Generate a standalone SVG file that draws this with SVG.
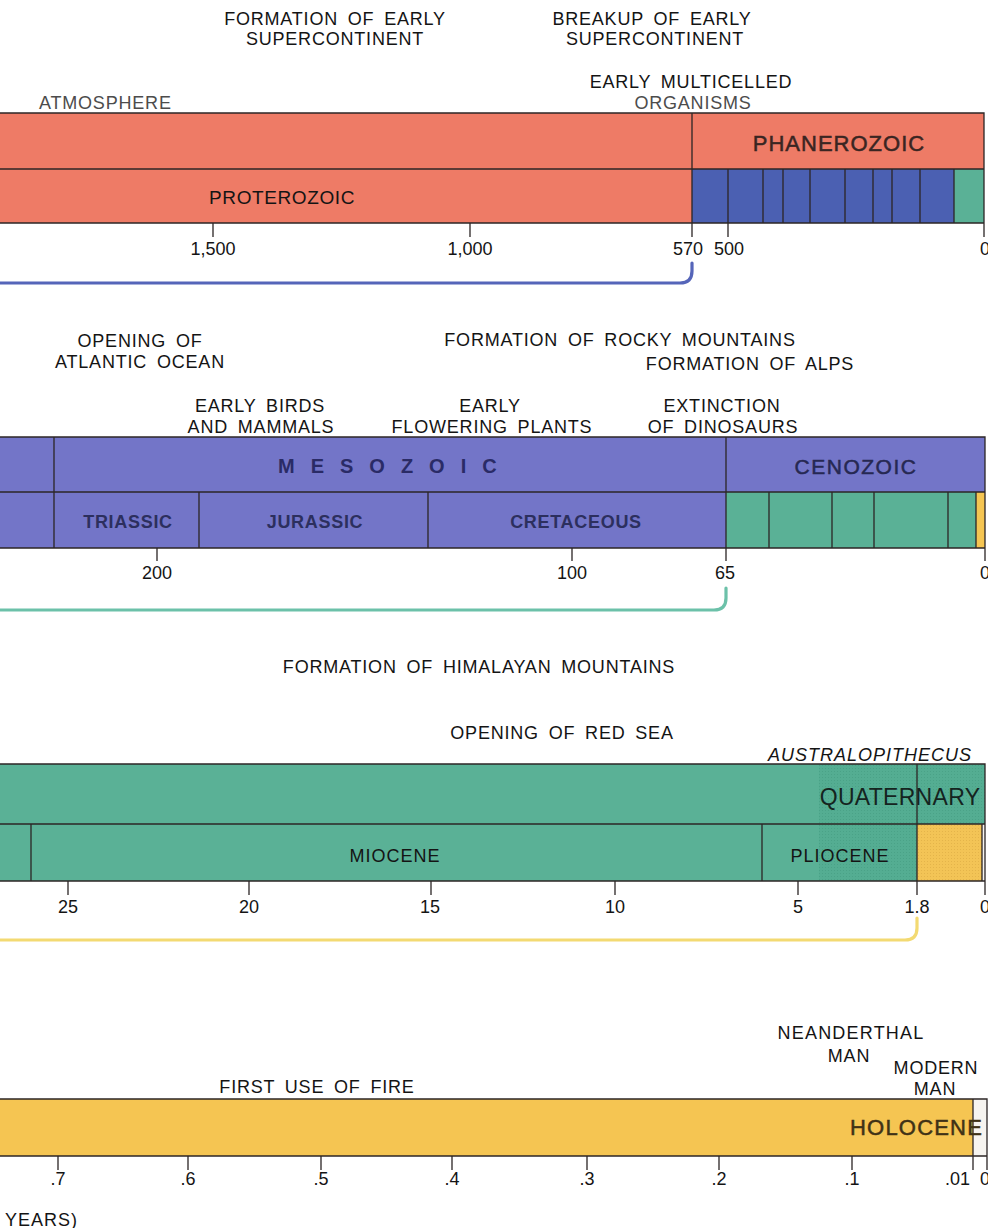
<svg xmlns="http://www.w3.org/2000/svg" width="988" height="1228" viewBox="0 0 988 1228">
<defs>
<pattern id="stipple" width="3" height="3" patternUnits="userSpaceOnUse">
<rect width="3" height="3" fill="#54ad92"/>
<rect width="1" height="1" fill="#4aa287"/>
</pattern>
<pattern id="stippleY" width="3" height="3" patternUnits="userSpaceOnUse">
<rect width="3" height="3" fill="#f3c456"/>
<rect width="1" height="1" fill="#e4b44a"/>
</pattern>
<style>
text{font-family:"Liberation Sans",Arial,sans-serif;fill:#141414}
.h{font-size:18px;letter-spacing:0.8px;word-spacing:4px}
.hm{text-anchor:middle}
.g{fill:#4c4c4c}
.t{font-size:18px;text-anchor:middle}
.med{stroke-width:0.5px}
.ln{stroke:#2c2626;stroke-width:1.3;fill:none}
.sal{fill:#ee7b66}
.blu{fill:#4b60b2}
.grn{fill:#5ab196}
.pur{fill:#7375c8}
.yel{fill:#f5c552}
.wht{fill:#f6f4f0}
.br{fill:none;stroke-width:3.2;stroke-linecap:round}
</style>
</defs>

<!-- ===== BAND 1 ===== -->
<g id="band1">
<rect class="sal" x="0" y="113" width="984" height="110"/>
<rect class="blu" x="692" y="169" width="262" height="54"/>
<rect class="grn" x="954" y="169" width="30" height="54"/>
<path class="ln" d="M0,113 H984 V223 H0 M0,169 H984 M692,113 V237 M728,169 V237 M763,169 V223 M783,169 V223 M810,169 V223 M845,169 V223 M873,169 V223 M892,169 V223 M920,169 V223 M954,169 V223 M984,223 V237 M213,223 V237 M470,223 V237"/>
</g>
<g id="band1-labels">
<text class="h hm" x="335" y="25">FORMATION OF EARLY</text>
<text class="h hm" x="335" y="45">SUPERCONTINENT</text>
<text class="h hm" x="652" y="25">BREAKUP OF EARLY</text>
<text class="h hm" x="655" y="45">SUPERCONTINENT</text>
<text class="h hm" x="691" y="88">EARLY MULTICELLED</text>
<text class="h hm g" x="693" y="109">ORGANISMS</text>
<text class="h g" x="39" y="109">ATMOSPHERE</text>
<text x="282" y="204" style="font-size:19px;letter-spacing:0.6px;text-anchor:middle">PROTEROZOIC</text>
<text class="med" x="839" y="151" style="font-size:22px;letter-spacing:1px;text-anchor:middle;fill:#3a2522;stroke:#3a2522">PHANEROZOIC</text>
<text class="t" x="213" y="255">1,500</text>
<text class="t" x="470" y="255">1,000</text>
<text class="t" x="688" y="255">570</text>
<text class="t" x="729" y="255">500</text>
<text x="980" y="255" style="font-size:18px">0</text>
</g>

<!-- ===== BAND 2 ===== -->
<g id="band2">
<rect class="pur" x="0" y="437" width="985" height="111"/>
<rect class="grn" x="726" y="492" width="250" height="56"/>
<rect class="yel" x="976" y="492" width="9" height="56"/>
<path class="ln" d="M0,437 H985 V548 H0 M0,492 H985 M54,437 V548 M199,492 V548 M428,492 V548 M726,437 V561 M769,492 V548 M832,492 V548 M874,492 V548 M948,492 V548 M976,492 V548 M985,548 V561 M157,548 V561 M572,548 V561"/>
</g>
<g id="band2-labels">
<text class="h hm" x="140" y="347">OPENING OF</text>
<text class="h hm" x="140" y="368">ATLANTIC OCEAN</text>
<text class="h hm" x="620" y="346">FORMATION OF ROCKY MOUNTAINS</text>
<text class="h hm" x="750" y="370">FORMATION OF ALPS</text>
<text class="h hm" x="260" y="412">EARLY BIRDS</text>
<text class="h hm" x="261" y="433">AND MAMMALS</text>
<text class="h hm" x="490" y="412">EARLY</text>
<text class="h hm" x="492" y="433">FLOWERING PLANTS</text>
<text class="h hm" x="722" y="412">EXTINCTION</text>
<text class="h hm" x="723" y="433">OF DINOSAURS</text>
<text x="278" y="473" style="font-size:20px;font-weight:bold;letter-spacing:16px;fill:#2a2b66">MESOZOIC</text>
<text class="med" x="856" y="474" style="font-size:21px;letter-spacing:1.5px;text-anchor:middle;fill:#262852;stroke:#262852">CENOZOIC</text>
<text x="128" y="528" style="font-size:18px;font-weight:bold;letter-spacing:0.7px;text-anchor:middle;fill:#2c2f5e">TRIASSIC</text>
<text x="315" y="528" style="font-size:18px;font-weight:bold;letter-spacing:0.7px;text-anchor:middle;fill:#2c2f5e">JURASSIC</text>
<text x="576" y="528" style="font-size:18px;font-weight:bold;letter-spacing:0.7px;text-anchor:middle;fill:#2c2f5e">CRETACEOUS</text>
<text class="t" x="157" y="579">200</text>
<text class="t" x="572" y="579">100</text>
<text class="t" x="725" y="579">65</text>
<text x="980" y="579" style="font-size:18px">0</text>
</g>

<!-- ===== BAND 3 ===== -->
<g id="band3">
<rect class="grn" x="0" y="764" width="985" height="117"/>
<rect fill="url(#stipple)" x="819" y="764" width="166" height="117"/>
<rect fill="url(#stippleY)" x="917" y="824" width="65" height="57"/>
<rect class="wht" x="982" y="824" width="3" height="57"/>
<path class="ln" d="M0,764 H985 V881 H0 M0,824 H985 M31,824 V881 M762,824 V881 M917,764 V895 M982,824 V881 M985,881 V895 M68,881 V895 M249,881 V895 M431,881 V895 M615,881 V895 M798,881 V895"/>
</g>
<g id="band3-labels">
<text class="h hm" x="479" y="673">FORMATION OF HIMALAYAN MOUNTAINS</text>
<text class="h hm" x="562" y="739">OPENING OF RED SEA</text>
<text x="870" y="761" style="font-size:18px;font-style:italic;letter-spacing:1px;text-anchor:middle">AUSTRALOPITHECUS</text>
<text x="900" y="805" style="font-size:23px;letter-spacing:0.3px;text-anchor:middle;fill:#15241f">QUATERNARY</text>
<text x="395" y="862" style="font-size:18px;letter-spacing:1px;text-anchor:middle">MIOCENE</text>
<text x="840" y="862" style="font-size:18px;letter-spacing:1px;text-anchor:middle">PLIOCENE</text>
<text class="t" x="68" y="913">25</text>
<text class="t" x="249" y="913">20</text>
<text class="t" x="430" y="913">15</text>
<text class="t" x="615" y="913">10</text>
<text class="t" x="798" y="913">5</text>
<text class="t" x="917" y="913">1.8</text>
<text x="980" y="913" style="font-size:18px">0</text>
</g>

<!-- ===== BAND 4 ===== -->
<g id="band4">
<rect class="yel" x="0" y="1099" width="973" height="57"/>
<rect class="wht" x="973" y="1099" width="14" height="57"/>
<path class="ln" d="M0,1099 H987 V1156 H0 M973,1099 V1170 M987,1156 V1170 M58,1156 V1170 M188,1156 V1170 M321,1156 V1170 M452,1156 V1170 M587,1156 V1170 M719,1156 V1170 M852,1156 V1170"/>
</g>
<g id="band4-labels">
<text class="h hm" x="317" y="1093">FIRST USE OF FIRE</text>
<text class="h hm" x="851" y="1039" style="letter-spacing:1.2px">NEANDERTHAL</text>
<text class="h hm" x="849" y="1062">MAN</text>
<text class="h hm" x="936" y="1074">MODERN</text>
<text class="h hm" x="935" y="1095">MAN</text>
<text class="med" x="850" y="1135" style="font-size:22px;letter-spacing:1.2px;fill:#3f3216;stroke:#3f3216">HOLOCENE</text>
<text class="t" x="58" y="1185">.7</text>
<text class="t" x="188" y="1185">.6</text>
<text class="t" x="321" y="1185">.5</text>
<text class="t" x="452" y="1185">.4</text>
<text class="t" x="587" y="1185">.3</text>
<text class="t" x="719" y="1185">.2</text>
<text class="t" x="852" y="1185">.1</text>
<text x="970" y="1185" style="font-size:18px;text-anchor:end">.01</text>
<text x="980" y="1185" style="font-size:18px">0</text>
<text x="5" y="1226" style="font-size:18px;letter-spacing:1px">YEARS)</text>
</g>

<!-- ===== CONNECTORS (brackets) ===== -->
<g id="connectors">
<path class="br" stroke="#5565b9" d="M0,283 H680 Q692,283 692,271 V263"/>
<path class="br" stroke="#6cc1a9" d="M0,610 H714 Q726,610 726,598 V588"/>
<path class="br" stroke="#f3da72" d="M0,940 H905 Q917,940 917,928 V918"/>
</g>
</svg>
